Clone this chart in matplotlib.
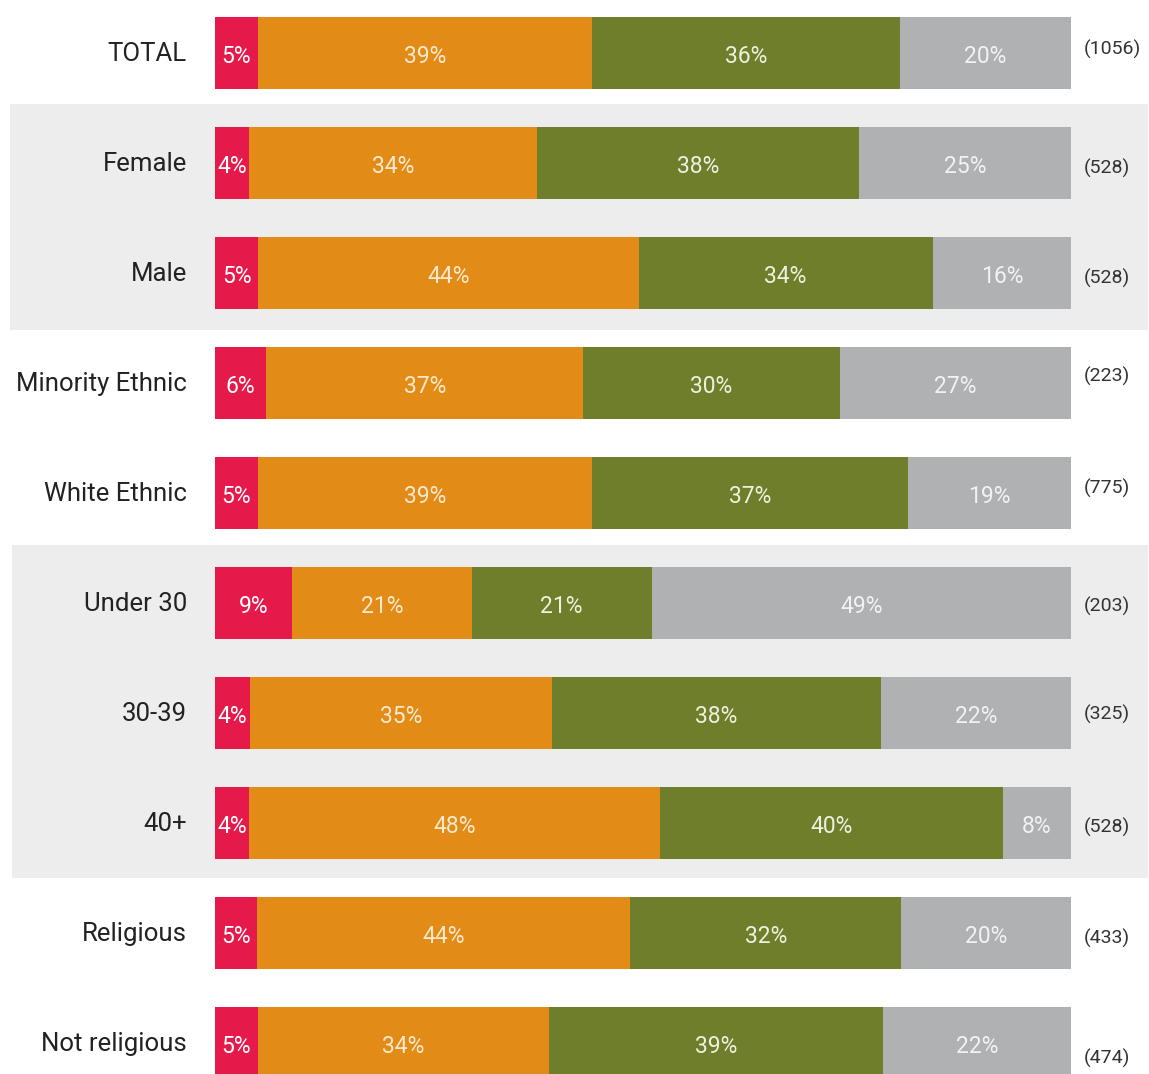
import matplotlib.pyplot as plt
from matplotlib.patches import Rectangle
import matplotlib.font_manager as fm

groups = ["TOTAL", "Female", "Male", "Minority Ethnic", "White Ethnic",
          "Under 30", "30-39", "40+", "Religious", "Not religious"]
seg1 = [5, 4, 5, 6, 5, 9, 4, 4, 5, 5]
seg2 = [39, 34, 44, 37, 39, 21, 35, 48, 44, 34]
seg3 = [36, 38, 34, 30, 37, 21, 38, 40, 32, 39]
seg4 = [20, 25, 16, 27, 19, 49, 22, 8, 20, 22]
counts = ["(1056)", "(528)", "(528)", "(223)", "(775)",
          "(203)", "(325)", "(528)", "(433)", "(474)"]

colors = ["#E5194A", "#E28C17", "#6E7E2A", "#B0B1B3"]
text_colors = ["#FFFFFF", "#FBE9CF", "#EEF0E0", "#F2F2F2"]
band_color = "#EDEDED"

avail = {f.name for f in fm.fontManager.ttflist}
family = next((f for f in ["Roboto", "Open Sans", "Lato", "DejaVu Sans"] if f in avail), "DejaVu Sans")
plt.rcParams["font.family"] = [family, "DejaVu Sans"]

W, H = 1149, 1074
fig = plt.figure(figsize=(W / 100, H / 100), dpi=100)
fig.patch.set_facecolor("white")

# background layer in pixel coordinates for the grey group bands
bg = fig.add_axes([0, 0, 1, 1], zorder=0)
bg.set_xlim(0, W)
bg.set_ylim(H, 0)
bg.axis("off")
for x0, y0, x1, y1 in [(10, 104, 1148, 330), (12, 545, 1148, 878)]:
    bg.add_patch(Rectangle((x0, y0), x1 - x0, y1 - y0,
                           facecolor=band_color, edgecolor="none"))

bar_left, bar_right = 215, 1071
pitch, first = 110, 53
ax = fig.add_axes([bar_left / W, 0, (bar_right - bar_left) / W, 1], zorder=1)
ax.set_facecolor("none")
ax.set_xlim(0, 1)
ax.set_ylim((H - first) / pitch, -first / pitch)
ax.axis("off")

series = [seg1, seg2, seg3, seg4]
n = len(groups)
for i in range(n):
    total = sum(s[i] for s in series)
    left = 0.0
    for k, s in enumerate(series):
        w = s[i] / total
        ax.barh(i, w, left=left, height=72 / pitch, color=colors[k], edgecolor="none")
        ax.text(left + w / 2, i + 0.03, f"{s[i]}%", ha="center", va="center",
                color=text_colors[k], fontsize=16.5)
        left += w
    ax.text(-28 / 856, i + 0.01, groups[i], ha="right", va="center",
            color="#222222", fontsize=18.5)

count_dy = [-4, 5, 5, -7, -5, 3, 1, 4, 5, 15]
for i in range(n):
    ax.text(1 + 13 / 856, i + count_dy[i] / pitch, counts[i], ha="left", va="center",
            color="#333333", fontsize=14)

fig.savefig("out.png", dpi=100, facecolor="white")
